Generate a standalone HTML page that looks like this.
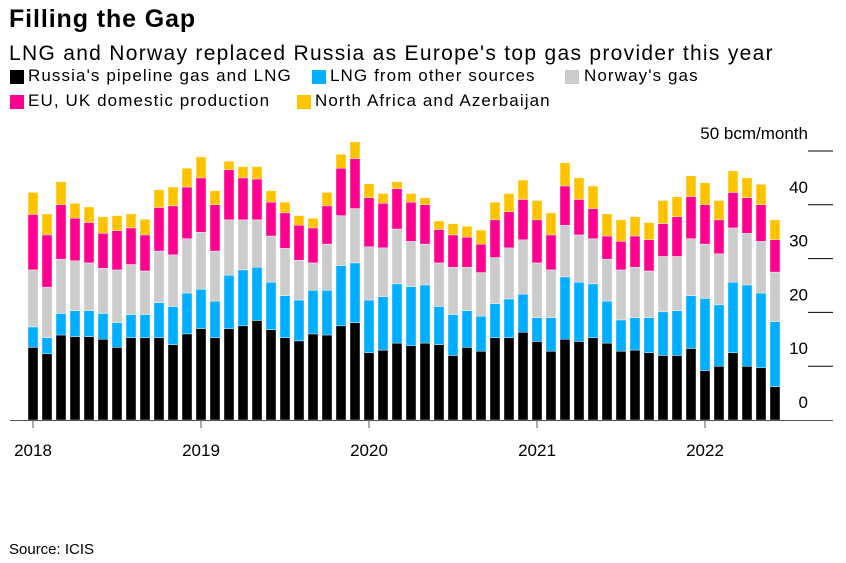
<!DOCTYPE html>
<html><head><meta charset="utf-8"><style>
body{margin:0;background:#fff;font-family:"Liberation Sans",Arial,sans-serif;}
#wrap{position:relative;width:846px;height:563px;overflow:hidden;}
.t{position:absolute;white-space:nowrap;color:#000;}
.sw{position:absolute;width:14px;height:14px;}
.lg{position:absolute;white-space:nowrap;font-size:17px;letter-spacing:1.1px;}
</style></head><body>
<div id="wrap">
<div class="t" style="left:9px;top:5px;font-size:25px;font-weight:bold;letter-spacing:0.9px;">Filling the Gap</div>
<div class="t" style="left:9px;top:42px;font-size:21px;letter-spacing:1.3px;">LNG and Norway replaced Russia as Europe's top gas provider this year</div>
<div><span class="sw" style="left:10px;top:70px;background:#000"></span><span class="lg" style="left:28px;top:66px">Russia's pipeline gas and LNG</span></div>
<div><span class="sw" style="left:312px;top:70px;background:#00AEFF"></span><span class="lg" style="left:330px;top:66px">LNG from other sources</span></div>
<div><span class="sw" style="left:565px;top:70px;background:#CCCCCC"></span><span class="lg" style="left:584px;top:66px">Norway's gas</span></div>
<div><span class="sw" style="left:10px;top:95px;background:#FF0090"></span><span class="lg" style="left:28px;top:91px">EU, UK domestic production</span></div>
<div><span class="sw" style="left:297px;top:95px;background:#FFC400"></span><span class="lg" style="left:315px;top:91px">North Africa and Azerbaijan</span></div>
<svg id="chart" width="846" height="563" style="position:absolute;left:0;top:0"></svg>
<div class="t" style="left:9px;top:541px;font-size:15px;">Source: ICIS</div>
</div>
<script>
const russia=[13.5,12.3,15.8,15.5,15.5,15.0,13.5,15.3,15.3,15.3,14.0,16.0,17.0,15.3,17.0,17.5,18.5,16.8,15.3,14.7,16.0,15.8,17.5,18.1,12.5,13.0,14.3,13.8,14.3,14.0,12.0,13.5,12.8,15.3,15.3,16.3,14.6,12.8,15.0,14.6,15.3,14.3,12.8,13.0,12.5,12.0,12.0,13.3,9.2,10.0,12.5,10.0,9.7,6.2];
const lng=[3.8,3.0,4.0,4.8,4.8,4.8,4.6,4.3,4.3,6.5,7.1,7.6,7.3,6.8,9.9,10.4,9.9,8.8,7.8,7.6,8.1,8.3,11.2,11.1,9.8,9.9,11.0,11.0,10.8,7.1,7.6,6.8,6.5,6.3,7.2,7.1,4.4,6.2,11.6,11.0,10.0,7.8,5.8,6.0,6.5,8.1,8.3,9.8,13.4,11.4,13.1,15.1,13.9,12.1];
const norway=[10.6,9.4,10.1,9.3,8.9,8.4,9.8,9.3,8.1,9.6,9.6,10.1,10.6,9.3,10.3,9.3,8.8,8.6,8.8,7.4,5.1,8.6,9.3,10.1,9.9,9.1,10.2,8.4,7.6,8.1,8.8,8.1,8.1,8.6,9.5,10.1,10.2,8.9,9.6,8.8,8.4,7.8,9.3,9.4,8.7,10.3,10.1,10.6,10.1,9.5,10.1,9.6,9.6,9.2];
const euuk=[10.3,9.7,10.1,7.9,7.5,6.5,7.3,6.8,6.7,8.1,9.1,9.6,10.1,8.6,9.3,7.8,7.6,6.3,6.6,6.5,6.5,7.1,8.8,9.3,9.1,8.3,7.5,7.3,7.3,6.2,6.0,5.6,5.3,7.0,6.7,7.5,8.0,6.5,7.3,6.6,5.6,4.3,5.3,5.8,5.8,6.1,7.4,7.8,7.3,6.3,6.6,6.6,6.8,6.0];
const africa=[4.1,3.9,4.3,2.8,2.9,3.1,2.8,2.6,2.9,3.3,3.5,3.5,3.9,2.6,1.6,2.1,2.3,2.1,2.0,1.8,1.8,2.5,2.6,3.1,2.6,1.8,1.3,1.6,1.3,1.6,2.1,2.0,2.6,3.3,3.4,3.6,3.6,4.1,4.3,4.0,4.2,4.1,4.0,3.6,3.2,4.3,3.7,3.9,4.1,3.6,4.0,3.7,3.8,3.7];
const yTicks=[0,10,20,30,40,50];
const yearLabels=["2018","2019","2020","2021","2022"];
const startYear=2018;

const NS="http://www.w3.org/2000/svg";
const svg=document.getElementById('chart');
const y0=420, pxPer=5.38, x0=33, step=14, bw=10;
const y=v=>y0-v*pxPer;
const x=i=>x0+i*step;
function mk(tag,attrs){const e=document.createElementNS(NS,tag);for(const k in attrs)e.setAttribute(k,attrs[k]);svg.appendChild(e);return e;}
const series=[[russia,'#000000','russia'],[lng,'#00AEFF','lng'],[norway,'#CCCCCC','norway'],[euuk,'#FF0090','eu-uk'],[africa,'#FFC400','africa-azerbaijan']];
for(let i=0;i<russia.length;i++){
  let base=0;
  for(const [arr,col,nm] of series){
    const v=arr[i];
    const r=mk('rect',{x:x(i)-bw/2,y:y(base+v),width:bw,height:v*pxPer,fill:col,stroke:'#fff','stroke-width':0.4});
    
    
    base+=v;
  }
}
yTicks.forEach(t=>{
  if(t>0){
    const l=mk('line',{x1:808,x2:833,y1:y(t),y2:y(t),stroke:'#000','stroke-width':1});
    
    
  }
  const tx=mk('text',{x:808,y:y(t)-12,'text-anchor':'end','font-size':17,'font-family':'Liberation Sans, Arial, sans-serif'});
  tx.textContent=t===50?'50 bcm/month':String(t);
  
  
});
const ax=mk('line',{x1:10,x2:833,y1:y0+0.5,y2:y0+0.5,stroke:'#555','stroke-width':1});


yearLabels.forEach((lab,k)=>{
  const xi=x((parseInt(lab)-startYear)*12);
  const tk=mk('line',{x1:xi,x2:xi,y1:y0,y2:y0+8,stroke:'#555','stroke-width':1});
  
  
  const tx=mk('text',{x:xi,y:456,'text-anchor':'middle','font-size':17,'font-family':'Liberation Sans, Arial, sans-serif'});
  tx.textContent=lab;
  
  
});
</script>
</body></html>
